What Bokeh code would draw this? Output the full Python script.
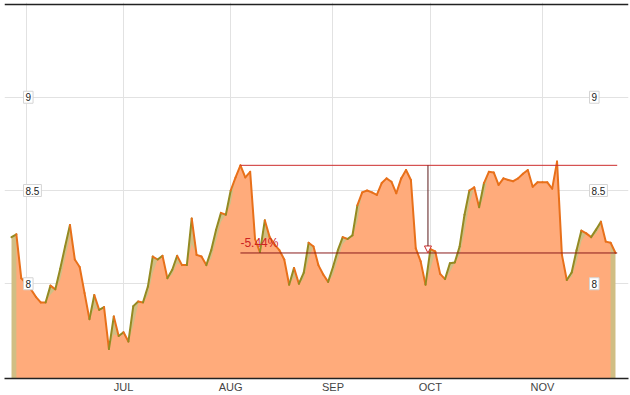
import numpy as np
from bokeh.plotting import figure
from bokeh.models import Range1d, FixedTicker, Span, Label, Arrow, NormalHead
from bokeh.embed import file_html
from bokeh.resources import INLINE

# ---- data ----
prices = [
    8.25, 8.265, 8.03, 8.00, 7.97, 7.93, 7.90, 7.90, 7.99, 7.97,
    8.08, 8.20, 8.315, 8.13, 8.09, 7.95, 7.81, 7.94, 7.86, 7.875,
    7.65, 7.825, 7.72, 7.74, 7.69, 7.88, 7.905, 7.90, 7.985, 8.146,
    8.13, 8.15, 8.03, 8.075, 8.15, 8.10, 8.10, 8.35, 8.155, 8.146,
    8.10, 8.18, 8.29, 8.38, 8.37, 8.50, 8.57, 8.635, 8.57, 8.60,
    8.24, 8.17, 8.34, 8.25, 8.21, 8.18, 8.13, 7.995, 8.085, 8.00,
    8.06, 8.22, 8.20, 8.10, 8.05, 8.01, 8.09, 8.18, 8.25, 8.24,
    8.26, 8.42, 8.49, 8.50, 8.49, 8.476, 8.54, 8.565, 8.547, 8.485,
    8.565, 8.61, 8.556, 8.19, 8.12, 7.995, 8.186, 8.173, 8.053, 8.025,
    8.11, 8.114, 8.20, 8.37, 8.50, 8.517, 8.41, 8.54, 8.60, 8.597,
    8.53, 8.565, 8.556, 8.55, 8.565, 8.59, 8.61, 8.52, 8.544, 8.544,
    8.544, 8.51, 8.655, 8.155, 8.02, 8.06, 8.18, 8.285, 8.27, 8.25,
    8.29, 8.333, 8.226, 8.22, 8.165,
]
month_ticks = [3, 23, 45, 66, 86, 109]
month_labels = ["", "JUL", "AUG", "SEP", "OCT", "NOV"]
y_ticks = [8, 8.5, 9]
y_tick_labels = ["8", "8.5", "9"]
ref_peak_index = 47

# ---- derived series ----
n = len(prices)
idx = np.arange(n)
p = np.array(prices, dtype=float)
prev = np.r_[p[0], p[:-1]]
low = prev < 8.42
shadow = np.where(low, p - 0.55 * (p - np.minimum(p, prev)), p)

OLIVE_LINE, ORANGE_LINE = "#948A22", "#E8701A"
seg_col = [ORANGE_LINE if (p[i + 1] <= p[i] or not low[i + 1]) else OLIVE_LINE
           for i in range(n - 1)]

# ---- layout helpers (pixel -> data index along x) ----
X0_PX, STEP_PX = 11.0, 604.0 / 124.0
def px_x(px):
    return (px - X0_PX) / STEP_PX

Y_BOTTOM, Y_TOP = 7.492, 9.508
FONT = "Liberation Sans"

fig = figure(width=630, height=395, output_backend="svg", toolbar_location=None,
             x_range=Range1d(px_x(4), px_x(628)), y_range=Range1d(Y_BOTTOM, Y_TOP),
             min_border_left=4, min_border_right=2, min_border_top=2, min_border_bottom=16)
fig.outline_line_color = None
fig.background_fill_color = "white"
fig.border_fill_color = "white"
fig.yaxis.visible = False

xa = fig.xaxis[0]
xa.ticker = FixedTicker(ticks=month_ticks)
xa.major_label_overrides = {t: l for t, l in zip(month_ticks, month_labels)}
xa.major_tick_in = 0
xa.major_tick_out = 0
xa.minor_tick_line_color = None
xa.axis_line_color = "#222222"
xa.axis_line_width = 1.5
xa.major_label_standoff = 2
xa.major_label_text_font = FONT
xa.major_label_text_font_size = "11px"
xa.major_label_text_color = "#444444"

fig.xgrid.ticker = FixedTicker(ticks=month_ticks)
fig.ygrid.ticker = FixedTicker(ticks=y_ticks)
for g in (fig.xgrid, fig.ygrid):
    g.grid_line_color = "#e2e2e2"
    g.grid_line_width = 1

fig.add_layout(Span(location=9.497, dimension="width", line_color="#222222", line_width=1.5))

# areas
fig.varea(x=idx, y1=Y_BOTTOM - 0.1, y2=p, fill_color="#D0BE84")
fig.varea(x=idx[1:n - 1], y1=Y_BOTTOM - 0.1, y2=shadow[1:n - 1], fill_color="#FFAB7B")
# price line, coloured per segment
fig.segment(x0=idx[:-1], y0=p[:-1], x1=idx[1:], y1=p[1:], line_color=seg_col,
            line_width=2, line_cap="round")

# drawdown annotation
peak_val = p[ref_peak_index]
last_val = p[-1]
end_x = (n - 1) + 0.35
pct = (last_val / peak_val - 1) * 100
fig.segment(x0=[ref_peak_index], y0=[peak_val], x1=[end_x], y1=[peak_val],
            line_color="#CC2B2B", line_width=1)
fig.segment(x0=[ref_peak_index], y0=[last_val], x1=[end_x], y1=[last_val],
            line_color="#8A1C1C", line_width=1)
mid_x = (ref_peak_index + n - 1) / 2
fig.add_layout(Arrow(end=NormalHead(size=7, fill_color="white", line_color="#CC2B2B", line_width=1),
                     x_start=mid_x, y_start=peak_val, x_end=mid_x, y_end=last_val,
                     line_color="#5A1A1A", line_width=1))
fig.add_layout(Label(x=ref_peak_index, y=last_val, y_offset=3, text=f"{pct:.2f}%",
                     text_font=FONT, text_font_size="12px", text_color="#CC2222",
                     text_align="left", text_baseline="bottom"))

# y tick labels inside the plot
for v, t in zip(y_ticks, y_tick_labels):
    for xpx in (23, 589):
        fig.add_layout(Label(x=px_x(xpx), y=v, text=t, text_font=FONT, text_font_size="10px",
                             text_color="#222222", text_align="left", text_baseline="middle",
                             background_fill_color="white", border_line_color="#d4d4d4",
                             padding=2))

open("out.html", "w").write(file_html(fig, INLINE))
